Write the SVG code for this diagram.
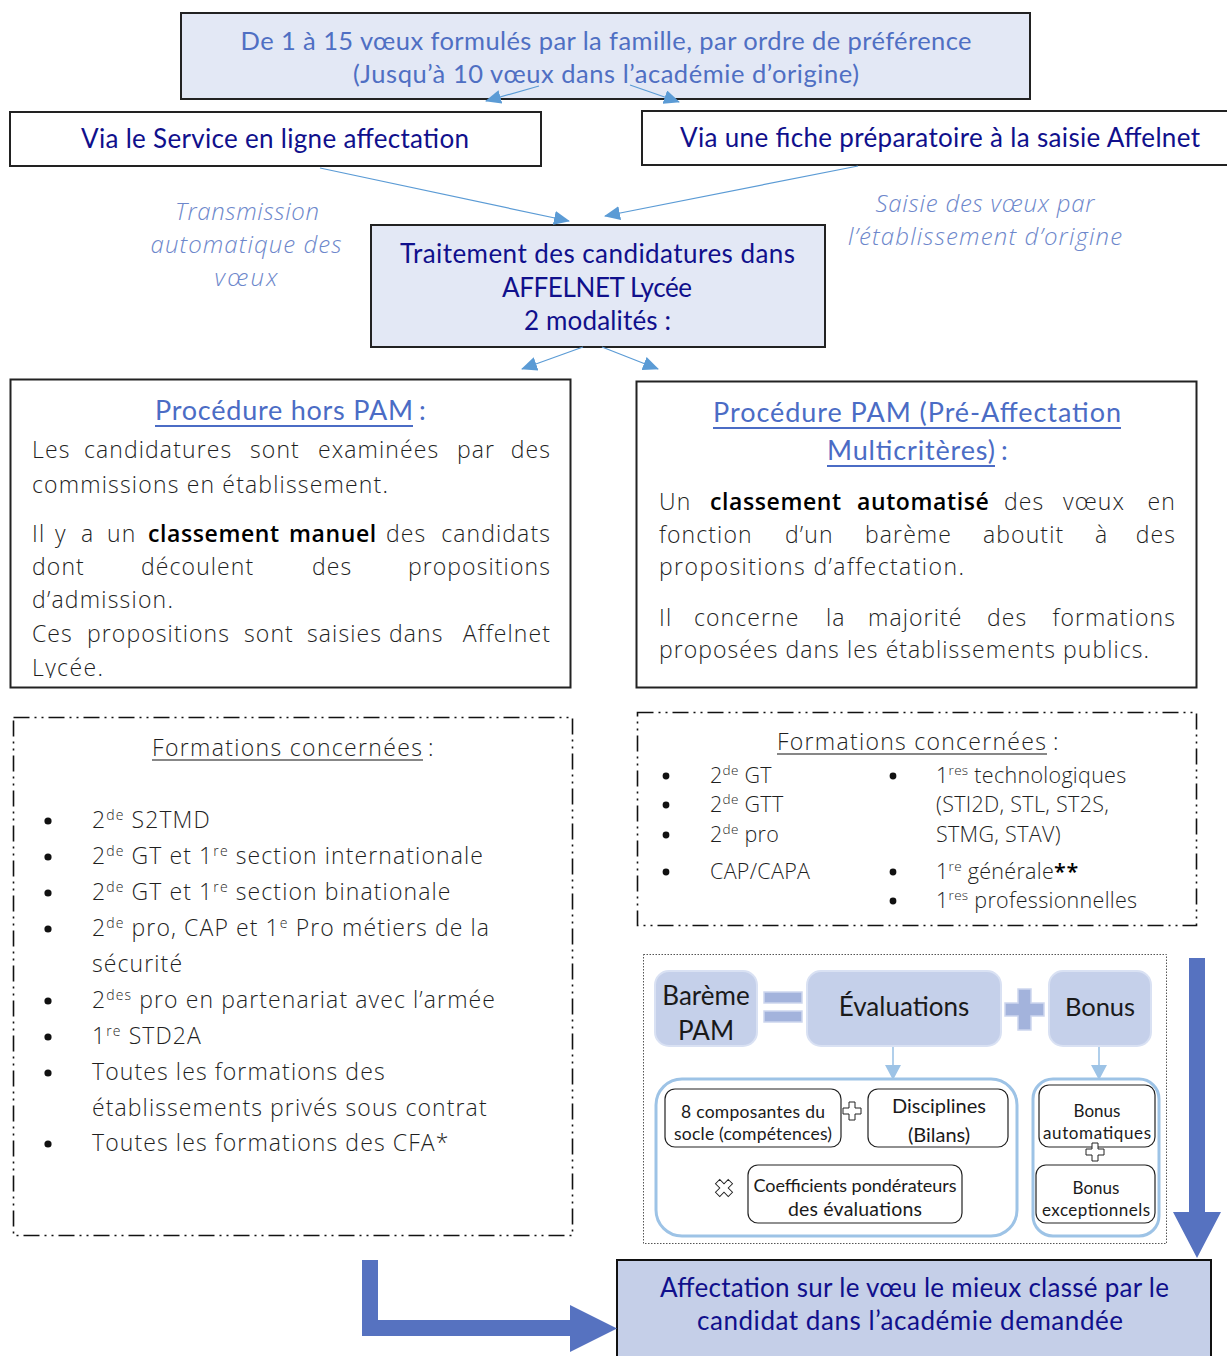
<svg xmlns="http://www.w3.org/2000/svg" width="1227" height="1356" viewBox="0 0 1227 1356">
<defs>
<style>
.cal { font-family: Lato, "Open Sans", sans-serif; }
.frame { stroke:#222; stroke-width:2; }
.lav { fill:#e3e8f5; }
.navy { fill:#10108c; }
.mid { fill:#4f6fc3; }
.ital { font-family:"Open Sans","Noto Sans",sans-serif; font-style:italic; font-weight:300; font-size:24px; fill:#6d87cb; text-anchor:middle; }
.body { font-family:"Open Sans","Noto Sans",sans-serif; font-weight:300; font-size:23px; letter-spacing:1.1px; fill:#1f1f1f; }
.bold { font-weight:600; fill:#000; letter-spacing:0.6px; }
.end { text-anchor:end; }
.title { font-family:Lato,"Open Sans",sans-serif; font-size:27px; fill:#4b6cc5; }
.uline { stroke:#4b6cc5; stroke-width:2; }
.conn { stroke:#5b9bd5; stroke-width:1.2; fill:none; marker-end:url(#ah); }
.conn2 { stroke:#9dc3e6; stroke-width:1.6; fill:none; marker-end:url(#ah2); }
.dash { fill:none; stroke:#111; stroke-width:1.6; stroke-dasharray:16 5 2 5 2 5; }
.list { font-family:"Open Sans","Noto Sans",sans-serif; font-weight:300; font-size:23px; letter-spacing:1.1px; fill:#1f1f1f; }
.list2 { font-family:"Open Sans","Noto Sans",sans-serif; font-weight:300; font-size:21.5px; letter-spacing:0.3px; fill:#1f1f1f; }
.pill { fill:#c5d0ea; stroke:#d9e1f3; stroke-width:2; }
.sign { fill:#a3b3dc; stroke:#cdd6ee; stroke-width:1.5; }
.ctr { fill:none; stroke:#9dc3e6; stroke-width:3; }
.ib { fill:#fff; stroke:#222; stroke-width:1.2; }
.bt { font-family:Lato,"Open Sans",sans-serif; fill:#1a1a1a; text-anchor:middle; }
.ol { fill:#fff; stroke:#222; stroke-width:1; }
.big { fill:#5672c0; }
</style>
<marker id="ah" markerUnits="userSpaceOnUse" markerWidth="16" markerHeight="14" viewBox="0 0 16 14" refX="15" refY="7" orient="auto">
<path d="M0,0 L16,7 L0,14 z" fill="#5b9bd5"/>
</marker>
<marker id="ah2" markerUnits="userSpaceOnUse" markerWidth="15" markerHeight="16" viewBox="0 0 15 16" refX="14" refY="8" orient="auto">
<path d="M0,0 L15,8 L0,16 z" fill="#9dc3e6"/>
</marker>
<path id="plus" d="M-3,-9 h6 v6 h6 v6 h-6 v6 h-6 v-6 h-6 v-6 h6 z"/>
<clipPath id="clipL"><rect x="11" y="380" width="559" height="298"/></clipPath>
</defs>

<g id="voeux">
<rect class="lav frame" x="181" y="13" width="849" height="86"/>
<text class="cal mid" font-size="25.5" text-anchor="middle" x="606" y="50" textLength="731">De 1 à 15 vœux formulés par la famille, par ordre de préférence</text>
<text class="cal mid" font-size="25.5" text-anchor="middle" x="606" y="83" textLength="506">(Jusqu’à 10 vœux dans l’académie d’origine)</text>
</g>

<g id="service-en-ligne">
<rect class="frame" fill="#fff" x="10" y="112" width="531" height="54"/>
<text class="cal navy" font-size="26" text-anchor="middle" x="275" y="148" textLength="388">Via le Service en ligne affectation</text>
</g>

<g id="fiche-preparatoire">
<rect class="frame" fill="#fff" x="642" y="111" width="590" height="54"/>
<text class="cal navy" font-size="26" text-anchor="middle" x="940" y="147" textLength="520">Via une fiche préparatoire à la saisie Affelnet</text>
</g>

<g id="label-transmission">
<text class="ital" x="247" y="220" textLength="144">Transmission</text>
<text class="ital" x="246" y="253" textLength="191">automatique des</text>
<text class="ital" x="246" y="286" textLength="63">vœux</text>
</g>

<g id="label-saisie">
<text class="ital" x="985" y="212" textLength="219">Saisie des vœux par</text>
<text class="ital" x="985" y="245" textLength="274">l’établissement d’origine</text>
</g>

<g id="traitement">
<rect class="lav frame" x="371" y="225" width="454" height="122"/>
<text class="cal navy" font-size="26" text-anchor="middle" x="597.5" y="263" textLength="395">Traitement des candidatures dans</text>
<text class="cal navy" font-size="26" text-anchor="middle" x="597" y="297" textLength="190">AFFELNET Lycée</text>
<text class="cal navy" font-size="26" text-anchor="middle" x="597.5" y="330" textLength="147">2 modalités :</text>
</g>

<g id="procedure-hors-pam">
<rect class="frame" fill="#fff" x="10.5" y="379.5" width="560" height="308"/>
<text class="title" x="155" y="420" textLength="258">Procédure hors PAM</text>
<text class="title" x="419" y="420">:</text>
<line class="uline" x1="155" y1="426" x2="413" y2="426"/>
<g clip-path="url(#clipL)">
<text class="body" y="458"><tspan x="32">Les</tspan><tspan x="84">candidatures</tspan><tspan x="250">sont</tspan><tspan x="318">examinées</tspan><tspan x="457">par</tspan></text>
<text class="body end" x="551" y="458">des</text>
<text class="body" x="32" y="493" textLength="357">commissions en établissement.</text>
<text class="body" y="542"><tspan x="32">Il</tspan><tspan x="55">y</tspan><tspan x="81">a</tspan><tspan x="107">un</tspan><tspan class="bold" x="148">classement</tspan><tspan class="bold" x="289">manuel</tspan><tspan x="386">des</tspan></text>
<text class="body end" x="551" y="542">candidats</text>
<text class="body" y="575"><tspan x="32">dont</tspan><tspan x="141">découlent</tspan><tspan x="312">des</tspan></text>
<text class="body end" x="551" y="575">propositions</text>
<text class="body" x="32" y="608" textLength="142">d’admission.</text>
<text class="body" y="642"><tspan x="32">Ces</tspan><tspan x="87">propositions</tspan><tspan x="244">sont</tspan><tspan x="307">saisies</tspan><tspan x="389">dans</tspan></text>
<text class="body end" x="551" y="642">Affelnet</text>
<text class="body" x="32" y="676" textLength="72">Lycée.</text>
</g>
</g>

<g id="procedure-pam">
<rect class="frame" fill="#fff" x="636.5" y="381.5" width="560" height="306"/>
<text class="title" x="713" y="422" textLength="408">Procédure PAM (Pré-Affectation</text>
<line class="uline" x1="713" y1="428" x2="1121" y2="428"/>
<text class="title" x="827" y="460" textLength="168">Multicritères)</text>
<text class="title" x="1001" y="460">:</text>
<line class="uline" x1="827" y1="466" x2="995" y2="466"/>
<text class="body" y="510"><tspan x="659">Un</tspan><tspan class="bold" x="710">classement</tspan><tspan class="bold" x="857">automatisé</tspan><tspan x="1004">des</tspan><tspan x="1063">vœux</tspan></text>
<text class="body end" x="1176" y="510">en</text>
<text class="body" y="543"><tspan x="659">fonction</tspan><tspan x="785">d’un</tspan><tspan x="865">barème</tspan><tspan x="983">aboutit</tspan><tspan x="1095">à</tspan></text>
<text class="body end" x="1176" y="543">des</text>
<text class="body" x="659" y="575" textLength="306">propositions d’affectation.</text>
<text class="body" y="626"><tspan x="659">Il</tspan><tspan x="694">concerne</tspan><tspan x="826">la</tspan><tspan x="868">majorité</tspan><tspan x="987">des</tspan></text>
<text class="body end" x="1176" y="626">formations</text>
<text class="body" x="659" y="658" textLength="491">proposées dans les établissements publics.</text>
</g>

<g id="formations-hors-pam">
<rect class="dash" x="13.5" y="717.5" width="559" height="518"/>
<text class="list" x="152" y="756" textLength="271">Formations concernées</text>
<text class="list" x="428" y="756">:</text>
<line x1="152" y1="760" x2="423" y2="760" stroke="#111" stroke-width="1.2"/>
<g fill="#111">
<circle cx="48" cy="821" r="3.6"/>
<circle cx="48" cy="857" r="3.6"/>
<circle cx="48" cy="893" r="3.6"/>
<circle cx="48" cy="929" r="3.6"/>
<circle cx="48" cy="1001" r="3.6"/>
<circle cx="48" cy="1037" r="3.6"/>
<circle cx="48" cy="1073" r="3.6"/>
<circle cx="48" cy="1144" r="3.6"/>
</g>
<text class="list" x="92" y="828">2<tspan font-size="14" dy="-8">de</tspan><tspan dy="8"> S2TMD</tspan></text>
<text class="list" x="92" y="864">2<tspan font-size="14" dy="-8">de</tspan><tspan dy="8"> GT et 1</tspan><tspan font-size="14" dy="-8">re</tspan><tspan dy="8"> section internationale</tspan></text>
<text class="list" x="92" y="900">2<tspan font-size="14" dy="-8">de</tspan><tspan dy="8"> GT et 1</tspan><tspan font-size="14" dy="-8">re</tspan><tspan dy="8"> section binationale</tspan></text>
<text class="list" x="92" y="936">2<tspan font-size="14" dy="-8">de</tspan><tspan dy="8"> pro, CAP et 1</tspan><tspan font-size="14" dy="-8">e</tspan><tspan dy="8"> Pro métiers de la</tspan></text>
<text class="list" x="92" y="972">sécurité</text>
<text class="list" x="92" y="1008">2<tspan font-size="14" dy="-8">des</tspan><tspan dy="8"> pro en partenariat avec l’armée</tspan></text>
<text class="list" x="92" y="1044">1<tspan font-size="14" dy="-8">re</tspan><tspan dy="8"> STD2A</tspan></text>
<text class="list" x="92" y="1080">Toutes les formations des</text>
<text class="list" x="92" y="1116">établissements privés sous contrat</text>
<text class="list" x="92" y="1151">Toutes les formations des CFA*</text>
</g>

<g id="formations-pam">
<rect class="dash" x="637.5" y="712.5" width="559" height="213"/>
<text class="list" x="777" y="750" textLength="270">Formations concernées</text>
<text class="list" x="1053" y="750">:</text>
<line x1="777" y1="754" x2="1047" y2="754" stroke="#111" stroke-width="1.2"/>
<g fill="#111">
<circle cx="666" cy="776" r="3.4"/>
<circle cx="666" cy="805" r="3.4"/>
<circle cx="666" cy="835" r="3.4"/>
<circle cx="666" cy="872" r="3.4"/>
<circle cx="893" cy="776" r="3.4"/>
<circle cx="893" cy="872" r="3.4"/>
<circle cx="893" cy="901" r="3.4"/>
</g>
<text class="list2" x="710" y="783">2<tspan font-size="13.5" dy="-8">de</tspan><tspan dy="8"> GT</tspan></text>
<text class="list2" x="710" y="812">2<tspan font-size="13.5" dy="-8">de</tspan><tspan dy="8"> GTT</tspan></text>
<text class="list2" x="710" y="842">2<tspan font-size="13.5" dy="-8">de</tspan><tspan dy="8"> pro</tspan></text>
<text class="list2" x="710" y="879">CAP/CAPA</text>
<text class="list2" x="936" y="783">1<tspan font-size="13.5" dy="-8">res</tspan><tspan dy="8"> technologiques</tspan></text>
<text class="list2" x="936" y="812">(STI2D, STL, ST2S,</text>
<text class="list2" x="936" y="842">STMG, STAV)</text>
<text class="list2" x="936" y="879">1<tspan font-size="13.5" dy="-8">re</tspan><tspan dy="8"> générale</tspan><tspan class="bold">**</tspan></text>
<text class="list2" x="936" y="908">1<tspan font-size="13.5" dy="-8">res</tspan><tspan dy="8"> professionnelles</tspan></text>
</g>

<g id="bareme">
<rect x="643.5" y="954.5" width="523" height="289" fill="none" stroke="#555" stroke-width="1" stroke-dasharray="1.5 1.5"/>
<g id="bareme-pam">
<rect class="pill" x="655" y="971" width="102" height="75" rx="14"/>
<text class="bt" font-size="26" x="706" y="1005">Barème</text>
<text class="bt" font-size="26" x="706" y="1040">PAM</text>
</g>
<rect class="sign" x="764" y="992" width="38" height="11"/>
<rect class="sign" x="764" y="1011" width="38" height="11"/>
<g id="evaluations">
<rect class="pill" x="807" y="971" width="194" height="75" rx="14"/>
<text class="bt" font-size="26" x="904" y="1016">Évaluations</text>
</g>
<path class="sign" d="M1018,989 h13 v14 h13 v13 h-13 v14 h-13 v-14 h-13 v-13 h13 z"/>
<g id="bonus">
<rect class="pill" x="1049" y="971" width="102" height="75" rx="14"/>
<text class="bt" font-size="25.5" x="1100" y="1016">Bonus</text>
</g>
<rect class="ctr" x="656" y="1079" width="361" height="157" rx="26"/>
<rect class="ctr" x="1033" y="1079" width="126" height="157" rx="20"/>
<g id="composantes">
<rect class="ib" x="665" y="1089" width="176" height="58" rx="10"/>
<text class="bt" font-size="17.5" x="753" y="1118" textLength="144">8 composantes du</text>
<text class="bt" font-size="17.5" x="753" y="1140" textLength="158">socle (compétences)</text>
</g>
<g id="disciplines">
<rect class="ib" x="868" y="1089" width="140" height="58" rx="10"/>
<text class="bt" font-size="20" x="939" y="1113">Disciplines</text>
<text class="bt" font-size="20" x="939" y="1142">(Bilans)</text>
</g>
<g id="coefficients">
<rect class="ib" x="748" y="1165" width="214" height="58" rx="10"/>
<text class="bt" font-size="18" x="855" y="1192" textLength="203">Coefficients pondérateurs</text>
<text class="bt" font-size="19.5" x="855" y="1216" textLength="134">des évaluations</text>
</g>
<g id="bonus-auto">
<rect class="ib" x="1039" y="1085" width="116" height="62" rx="10"/>
<text class="bt" font-size="17" x="1097" y="1117">Bonus</text>
<text class="bt" font-size="17" x="1097" y="1139" textLength="108">automatiques</text>
</g>
<g id="bonus-exc">
<rect class="ib" x="1036" y="1165" width="119" height="58" rx="10"/>
<text class="bt" font-size="17" x="1096" y="1194">Bonus</text>
<text class="bt" font-size="17" x="1096" y="1216" textLength="108">exceptionnels</text>
</g>
<use href="#plus" class="ol" transform="translate(852,1111)"/>
<use href="#plus" class="ol" transform="translate(1095,1152)"/>
<use href="#plus" class="ol" transform="translate(724,1188) rotate(45)"/>
</g>

<g id="affectation">
<rect fill="#c5cfe8" stroke="#111" stroke-width="2" x="617" y="1260" width="594" height="100"/>
<text class="cal navy" font-size="26" text-anchor="middle" x="914.5" y="1297" textLength="509">Affectation sur le vœu le mieux classé par le</text>
<text class="cal navy" font-size="26" text-anchor="middle" x="910" y="1330" textLength="426">candidat dans l’académie demandée</text>
</g>

<g id="connectors">
<line class="conn" x1="539" y1="86" x2="486" y2="101"/>
<line class="conn" x1="630" y1="85" x2="679" y2="102"/>
<line class="conn" x1="320" y1="168" x2="569" y2="221"/>
<line class="conn" x1="858" y1="166" x2="605" y2="216"/>
<line class="conn" x1="583" y1="347" x2="522" y2="369"/>
<line class="conn" x1="602" y1="347" x2="658" y2="369"/>
<line class="conn2" x1="893" y1="1047" x2="893" y2="1079"/>
<line class="conn2" x1="1099" y1="1047" x2="1099" y2="1079"/>
<polygon class="big" points="1189,958 1205,958 1205,1212 1221,1212 1197,1258 1173,1212 1189,1212"/>
<polygon class="big" points="362,1260 378,1260 378,1320 570,1320 570,1305 617,1328.5 570,1352 570,1336 362,1336"/>
</g>
</svg>
